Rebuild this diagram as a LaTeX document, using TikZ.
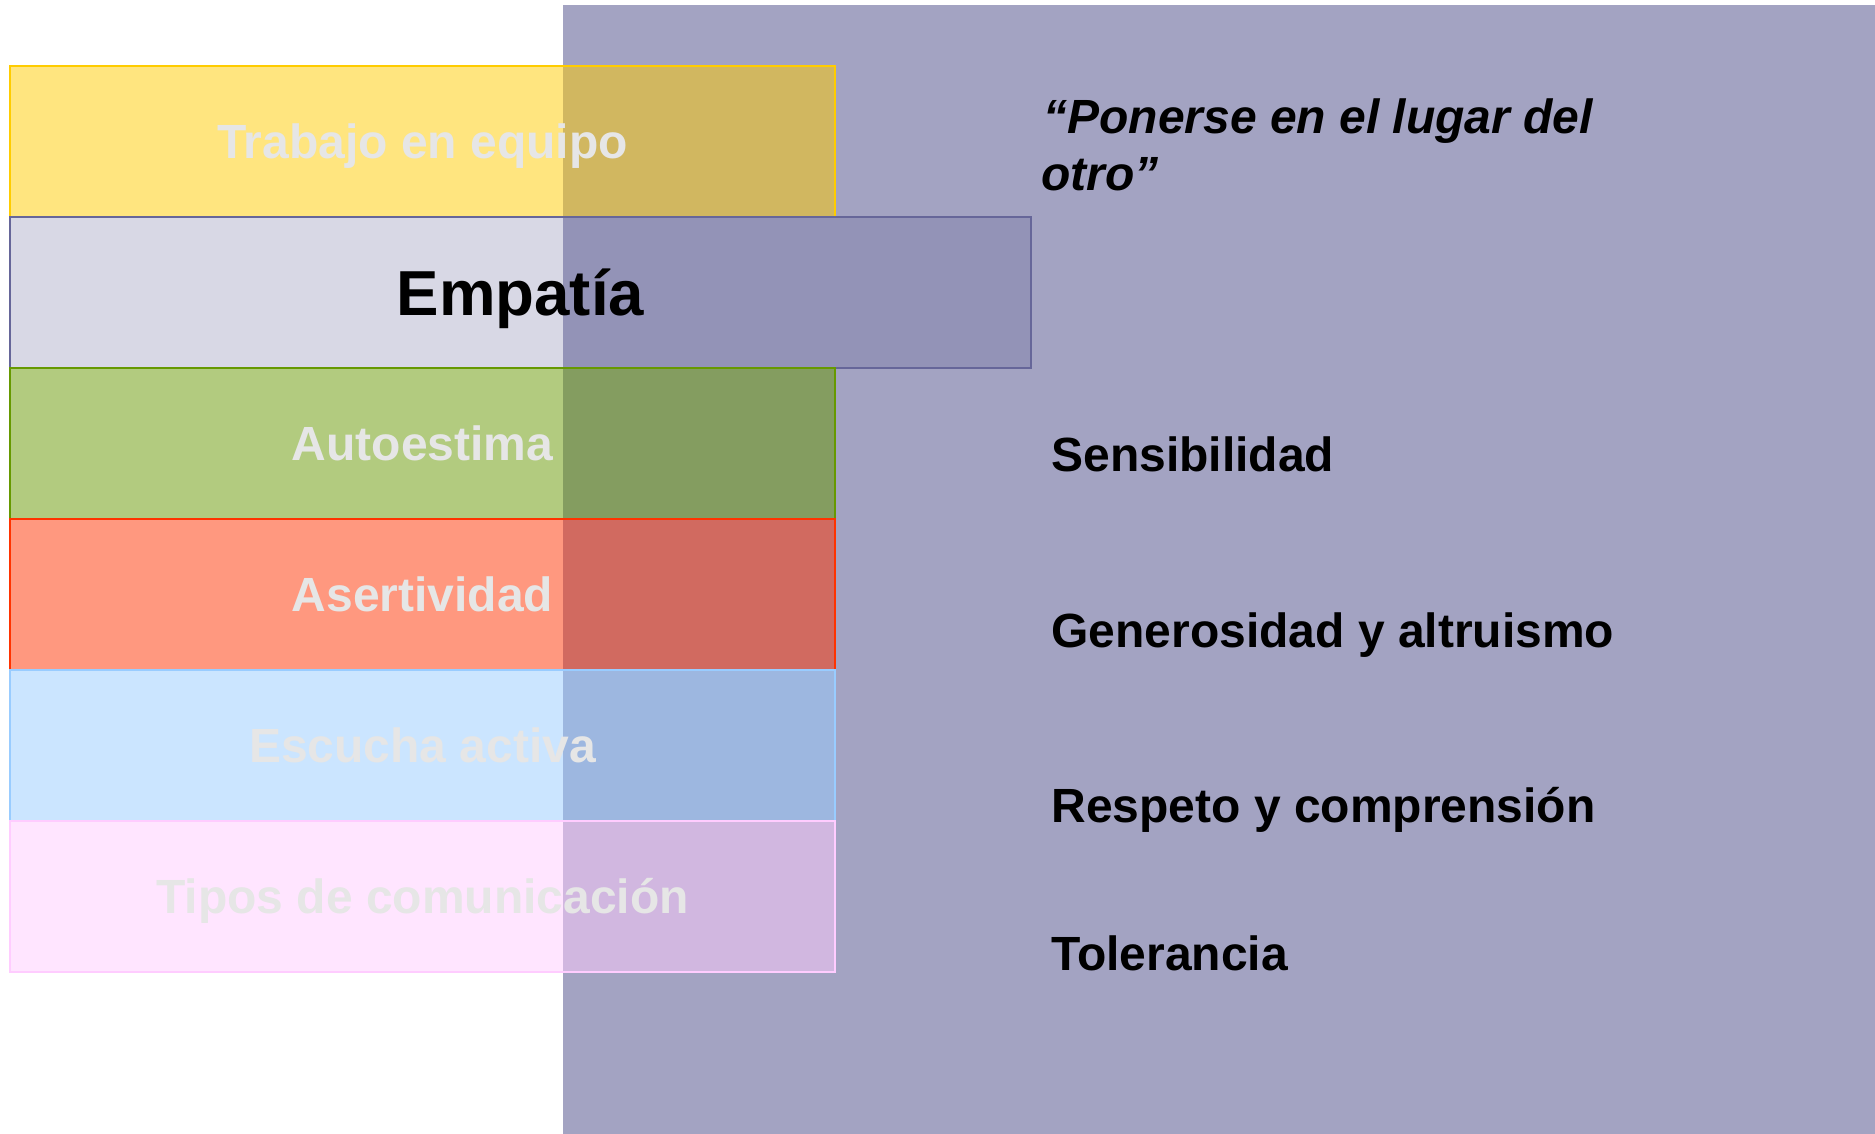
\documentclass[tikz,border=0pt]{standalone}
\usepackage{fontspec}
\setmainfont{Liberation Sans}
\definecolor{bgpurple}{RGB}{163,163,194}
\definecolor{lblgray}{RGB}{230,230,230}
\definecolor{cyellow}{RGB}{255,204,0}
\definecolor{cpurple}{RGB}{102,102,153}
\definecolor{cgreen}{RGB}{102,153,0}
\definecolor{cred}{RGB}{255,51,0}
\definecolor{cblue}{RGB}{153,204,255}
\definecolor{cpink}{RGB}{255,204,255}
\begin{document}
\begin{tikzpicture}[x=0.5pt,y=-0.5pt,
  box/.style={anchor=north west, inner sep=0pt, outer sep=0pt,
    minimum width=412.5pt, minimum height=75.5pt, line width=1pt,
    fill opacity=0.5, text opacity=1},
  lbl/.style={anchor=base, text=lblgray, inner sep=0pt,
    font=\fontsize{24}{28}\selectfont\bfseries},
  side/.style={anchor=base west, text=black, inner sep=0pt,
    font=\fontsize{24}{28}\selectfont\bfseries}]
\useasboundingbox (0,0) rectangle (1875,1134);
\fill[white] (0,0) rectangle (1875,1134);
\node[fill=bgpurple, anchor=north west, inner sep=0pt, outer sep=0pt,
  minimum width=656pt, minimum height=564.5pt] (panel) at (563,5) {};

\node[box, draw=cyellow, fill=cyellow] (trabajo) at (10,66) {};
\node[box, draw=cpurple, fill=cpurple, fill opacity=0.25, minimum width=510.5pt] (empatia) at (10,217) {};
\node[box, draw=cgreen, fill=cgreen] (autoestima) at (10,368) {};
\node[box, draw=cred, fill=cred] (asertividad) at (10,519) {};
\node[box, draw=cblue, fill=cblue] (escucha) at (10,670) {};
\node[box, draw=cpink, fill=cpink] (tipos) at (10,821) {};

\node[lbl] (ltrabajo) at ([yshift=-8.6pt]trabajo.center) {Trabajo en equipo};
\node[lbl, text=black, font=\fontsize{31.8}{36}\selectfont\bfseries] (lempatia) at ([yshift=-11.4pt]empatia.center) {Empatía};
\node[lbl] (lautoestima) at ([yshift=-8.6pt]autoestima.center) {Autoestima};
\node[lbl] (lasertividad) at ([yshift=-8.6pt]asertividad.center) {Asertividad};
\node[lbl] (lescucha) at ([yshift=-8.6pt]escucha.center) {Escucha activa};
\node[lbl] (ltipos) at ([yshift=-8.6pt]tipos.center) {Tipos de comunicación};

\node[side, font=\fontsize{24}{28}\selectfont\bfseries\itshape] (quote1) at (1043,134) {“Ponerse en el lugar del};
\node[side, font=\fontsize{24}{28}\selectfont\bfseries\itshape] (quote2) at (1041,191) {otro”};
\node[side] (sensibilidad) at (1051,471) {Sensibilidad};
\node[side] (generosidad) at (1051,647) {Generosidad y altruismo};
\node[side] (respeto) at (1051,822) {Respeto y comprensión};
\node[side] (tolerancia) at (1051,970) {Tolerancia};
\end{tikzpicture}
\end{document}
